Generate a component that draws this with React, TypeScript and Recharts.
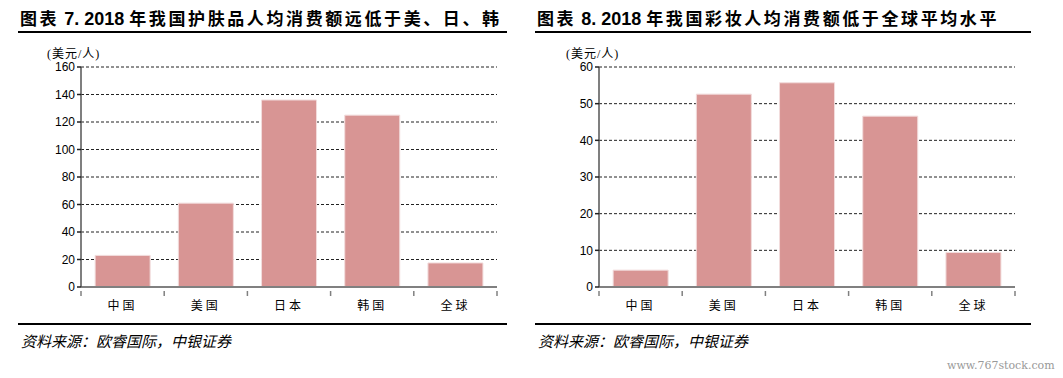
import React from "react";
import { BarChart, Bar, XAxis, YAxis, CartesianGrid } from "recharts";

const regions = ["中国", "美国", "日本", "韩国", "全球"];
const skincareSpend = [23, 61, 136, 125, 17.5];
const makeupSpend = [4.6, 52.6, 55.7, 46.6, 9.4];
const skincareTicks = [0, 20, 40, 60, 80, 100, 120, 140, 160];
const makeupTicks = [0, 10, 20, 30, 40, 50, 60];

const BAR = "#d89594";
const CJK = "'Noto Sans CJK SC', 'Liberation Serif', serif";
const SERIF = "'Liberation Serif', 'Noto Sans CJK SC', serif";
const SANS = "'Liberation Sans', Arial, sans-serif";

// category tick label plus tick marks at the category boundaries
function BoundaryTick(props: any) {
  const { x, y, payload, index, half } = props;
  const last = index === regions.length - 1;
  return (
    <g>
      <line x1={x - half} y1={y - 4} x2={x - half} y2={y + 1} stroke="#808080" strokeWidth={1.5} />
      {last && <line x1={x + half} y1={y - 4} x2={x + half} y2={y + 1} stroke="#808080" strokeWidth={1.5} />}
      <text x={x} y={y + 15} textAnchor="middle" fontSize={12} fontFamily={CJK} fill="#000" letterSpacing={3}>
        {payload.value}
      </text>
    </g>
  );
}

function Panel(props: {
  left: number;
  num: string;
  title: string;
  values: number[];
  ticks: number[];
  ruleLeft: number;
  ruleWidth: number;
  titleLeft: number;
  unitLeft: number;
  sourceLeft: number;
}) {
  const { left, num, title, values, ticks, ruleLeft, ruleWidth, titleLeft, unitLeft, sourceLeft } = props;
  const data = regions.map((r, i) => ({ region: r, value: values[i] }));
  const chartW = 480;
  const yw = 51;
  const rightM = 13;
  const half = (chartW - yw - rightM) / regions.length / 2;
  return (
    <>
      <div
        style={{
          position: "absolute",
          left: titleLeft,
          top: 5,
          fontFamily: CJK,
          fontWeight: 700,
          fontSize: 17,
          letterSpacing: 2.6,
          whiteSpace: "nowrap",
          color: "#000",
        }}
      >
        图表
        <span style={{ fontFamily: SANS, fontSize: 18, letterSpacing: 0 }}>{" " + num + " "}</span>
        {title}
      </div>
      <div style={{ position: "absolute", left: ruleLeft, top: 31, width: ruleWidth, height: 1.5, background: "#000" }} />
      <div
        style={{
          position: "absolute",
          left: unitLeft,
          top: 44,
          fontFamily: SERIF,
          fontSize: 12,
          letterSpacing: 1,
          color: "#000",
          whiteSpace: "nowrap",
        }}
      >
        (美元/人)
      </div>
      <div style={{ position: "absolute", left: left, top: 60 }}>
        <BarChart
          width={chartW}
          height={262}
          data={data}
          margin={{ top: 7, right: rightM, left: 0, bottom: 17 }}
          barCategoryGap="17%"
        >
          <CartesianGrid vertical={false} stroke="#222" strokeDasharray="3 2" />
          <XAxis
            dataKey="region"
            stroke="#808080"
            strokeWidth={2}
            tickLine={false}
            height={18}
            interval={0}
            tick={<BoundaryTick half={half} />}
          />
          <YAxis
            width={yw}
            domain={[0, ticks[ticks.length - 1]]}
            ticks={ticks}
            interval={0}
            stroke="#555"
            strokeWidth={1.5}
            tickSize={4}
            tickLine={{ stroke: "#222" }}
            tick={{ fontSize: 12, fill: "#000", fontFamily: SANS }}
          />
          <Bar dataKey="value" fill={BAR} stroke="#f2dcdc" strokeWidth={1} isAnimationActive={false} />
        </BarChart>
      </div>
      <div style={{ position: "absolute", left: ruleLeft, top: 323, width: ruleWidth, height: 1.5, background: "#000" }} />
      <div
        style={{
          position: "absolute",
          left: sourceLeft,
          top: 330,
          fontFamily: CJK,
          fontStyle: "italic",
          fontSize: 15,
          color: "#000",
          whiteSpace: "nowrap",
        }}
      >
        资料来源：欧睿国际，中银证券
      </div>
    </>
  );
}

export default function App() {
  return (
    <div style={{ position: "absolute", left: 0, top: 0, width: 1063, height: 378, background: "#fff", overflow: "hidden" }}>
      <Panel
        left={30}
        num="7. 2018"
        title="年我国护肤品人均消费额远低于美、日、韩"
        values={skincareSpend}
        ticks={skincareTicks}
        ruleLeft={18}
        ruleWidth={489}
        titleLeft={20}
        unitLeft={47}
        sourceLeft={21}
      />
      <Panel
        left={548}
        num="8. 2018"
        title="年我国彩妆人均消费额低于全球平均水平"
        values={makeupSpend}
        ticks={makeupTicks}
        ruleLeft={535}
        ruleWidth={496}
        titleLeft={537}
        unitLeft={566}
        sourceLeft={538}
      />
      <div
        style={{
          position: "absolute",
          left: 947,
          top: 359,
          fontFamily: "'DejaVu Serif', serif",
          fontSize: 11,
          color: "#999",
          whiteSpace: "nowrap",
        }}
      >
        www.767stock.com
      </div>
    </div>
  );
}
